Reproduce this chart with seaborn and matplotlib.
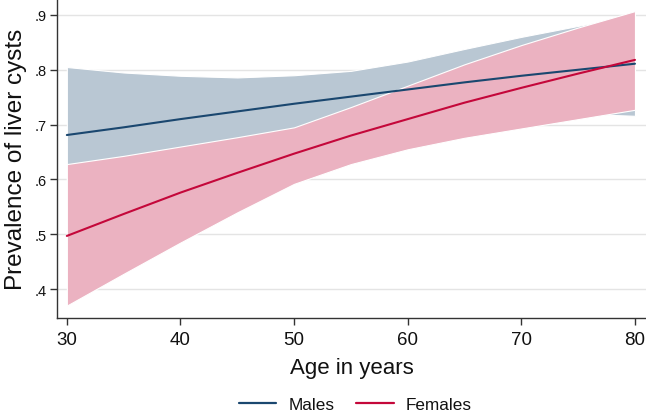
import pandas as pd
import numpy as np
import seaborn as sns
import matplotlib.pyplot as plt

age = [30, 35, 40, 45, 50, 55, 60, 65, 70, 75, 80]

male_est = [0.681, 0.695, 0.710, 0.724, 0.738, 0.751, 0.764, 0.777, 0.789, 0.800, 0.811]
male_lo = [0.550, 0.590, 0.625, 0.658, 0.684, 0.703, 0.714, 0.720, 0.722, 0.720, 0.716]
male_hi = [0.805, 0.795, 0.789, 0.786, 0.790, 0.798, 0.815, 0.838, 0.860, 0.880, 0.900]

female_est = [0.497, 0.537, 0.576, 0.612, 0.647, 0.680, 0.710, 0.740, 0.767, 0.793, 0.818]
female_lo = [0.370, 0.428, 0.485, 0.540, 0.592, 0.628, 0.655, 0.676, 0.693, 0.710, 0.727]
female_hi = [0.628, 0.643, 0.660, 0.677, 0.695, 0.732, 0.771, 0.810, 0.845, 0.877, 0.907]

y_ticks = [0.4, 0.5, 0.6, 0.7, 0.8, 0.9]
y_labels = ['.4', '.5', '.6', '.7', '.8', '.9']
x_ticks = [30, 40, 50, 60, 70, 80]

navy = '#1a476f'
red = '#c4073a'

sns.set_style('white')
plt.rcParams['font.family'] = ['Liberation Sans', 'DejaVu Sans']
plt.rcParams['text.color'] = '#111111'
plt.rcParams['axes.labelcolor'] = '#111111'
plt.rcParams['xtick.color'] = '#111111'
plt.rcParams['ytick.color'] = '#111111'

df = pd.DataFrame({
    'age': age * 2,
    'prev': male_est + female_est,
    'sex': ['Males'] * len(age) + ['Females'] * len(age),
})

fig = plt.figure(figsize=(6.46, 4.14), dpi=100)
ax = fig.add_axes([0.088, 0.229, 0.912, 0.771])

for yt in y_ticks:
    ax.axhline(yt, color='#e4e4e4', lw=1.0, zorder=0)

ax.fill_between(age, male_lo, male_hi, color='#b9c7d3', edgecolor='white', lw=0.8, zorder=1)
ax.fill_between(age, female_lo, female_hi, color='#ebb2c1', edgecolor='white', lw=0.8, zorder=2)

sns.lineplot(data=df, x='age', y='prev', hue='sex', palette={'Males': navy, 'Females': red},
             lw=1.5, ax=ax, zorder=3, legend=False)

ax.set_xlim(29.12, 80.97)
ax.set_ylim(0.347, 0.929)
ax.set_xticks(x_ticks)
ax.set_yticks(y_ticks)
ax.set_yticklabels(y_labels)
ax.tick_params(axis='x', labelsize=13.5, length=5, width=1, color='#333333', pad=4, direction='out', bottom=True)
ax.tick_params(axis='y', labelsize=10.5, length=5, width=1, color='#333333', pad=2, direction='out', left=True)

for side in ['top', 'right']:
    ax.spines[side].set_visible(False)
for side in ['left', 'bottom']:
    ax.spines[side].set_color('#333333')
    ax.spines[side].set_linewidth(1.0)

ax.set_xlabel('Age in years', fontsize=16, labelpad=7)
ax.set_ylabel('Prevalence of liver cysts', fontsize=17.5, labelpad=6)

handles = [plt.Line2D([], [], color=navy, lw=1.6), plt.Line2D([], [], color=red, lw=1.6)]
fig.legend(handles, ['Males', 'Females'], loc='center', bbox_to_anchor=(0.55, 0.02),
           ncol=2, frameon=False, fontsize=12.3, handlelength=2.2, handletextpad=0.7,
           columnspacing=1.3)

fig.savefig('out.png', dpi=100)
plt.close()
